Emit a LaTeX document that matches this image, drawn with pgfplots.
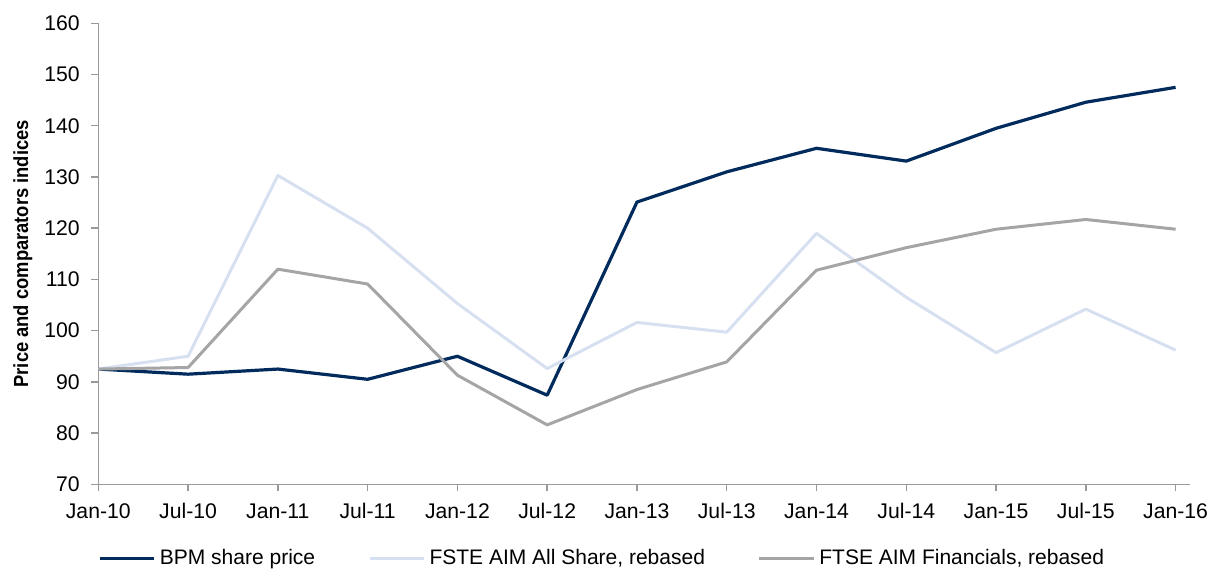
\documentclass[border=0pt]{standalone}
\usepackage{fontspec}
\setmainfont{Liberation Sans}
\usepackage{pgfplots}
\pgfplotsset{compat=1.18}
\definecolor{navy}{HTML}{002B5C}
\definecolor{lightblue}{HTML}{D7E0F1}
\definecolor{midgray}{HTML}{A5A5A5}
\definecolor{axisgray}{HTML}{9A9A9A}
\begin{document}
\begin{tikzpicture}
\useasboundingbox (-49.15pt,-42.35pt) rectangle (559.35pt,242.15pt);
\begin{axis}[
  at={(0pt,0pt)}, anchor=south west,
  scale only axis, width=545.85pt, height=230.5pt,
  xmin=0, xmax=12.16, ymin=70, ymax=160,
  clip=false,
  axis lines=left,
  axis line style={-, draw=axisgray, line width=0.7pt},
  tick style={draw=axisgray, line width=0.7pt},
  tick align=outside, major tick length=3.5pt,
  xtick={0,1,...,12},
  xticklabels={Jan-10,Jul-10,Jan-11,Jul-11,Jan-12,Jul-12,Jan-13,Jul-13,Jan-14,Jul-14,Jan-15,Jul-15,Jan-16},
  ytick={70,80,...,160},
  /pgf/number format/assume math mode=true,
  ticklabel style={font=\fontsize{10.6}{12}\selectfont, text=black},
  xticklabel style={anchor=base, inner sep=0pt, yshift=-13.6pt},
  yticklabel style={anchor=east, inner sep=0pt, xshift=-5.6pt},
  ylabel={Price and comparators indices},
  ylabel style={font=\bfseries\fontsize{10.2}{12}\selectfont\addfontfeatures{FakeStretch=0.9}, at={(axis description cs:-0.069,0.5)}, anchor=center},
  legend columns=3,
  legend style={draw=none, fill=none, at={(0,0)}, anchor=west, yshift=-37.2pt,
    inner sep=0pt, outer sep=0pt, font=\fontsize{10.5}{12}\selectfont,
    nodes={inner sep=0pt, outer sep=0pt},
    /tikz/every odd column/.append style={column sep=2pt},
    /tikz/every even column/.append style={column sep=26.5pt}},
  legend cell align=left,
  legend image code/.code={\draw[#1] (0pt,0pt) -- (27.2pt,0pt);},
]
\addplot[navy, line width=1.6pt, line join=round] coordinates {
(0,92.5) (1,91.5) (2,92.5) (3,90.5) (4,95) (5,87.4) (6,125.1) (7,131) (8,135.6) (9,133.1) (10,139.5) (11,144.6) (12,147.5)};
\addlegendentry{BPM share price}
\addplot[lightblue, line width=1.5pt, line join=round] coordinates {
(0,92.5) (1,95.0) (2,130.3) (3,120) (4,105.3) (5,92.6) (6,101.6) (7,99.7) (8,119) (9,106.5) (10,95.7) (11,104.2) (12,96.2)};
\addlegendentry{FSTE AIM All Share, rebased}
\addplot[midgray, line width=1.5pt, line join=round] coordinates {
(0,92.5) (1,92.8) (2,112) (3,109.1) (4,91.3) (5,81.6) (6,88.5) (7,93.9) (8,111.8) (9,116.2) (10,119.8) (11,121.7) (12,119.8)};
\addlegendentry{FTSE AIM Financials, rebased}
\end{axis}
\end{tikzpicture}
\end{document}
